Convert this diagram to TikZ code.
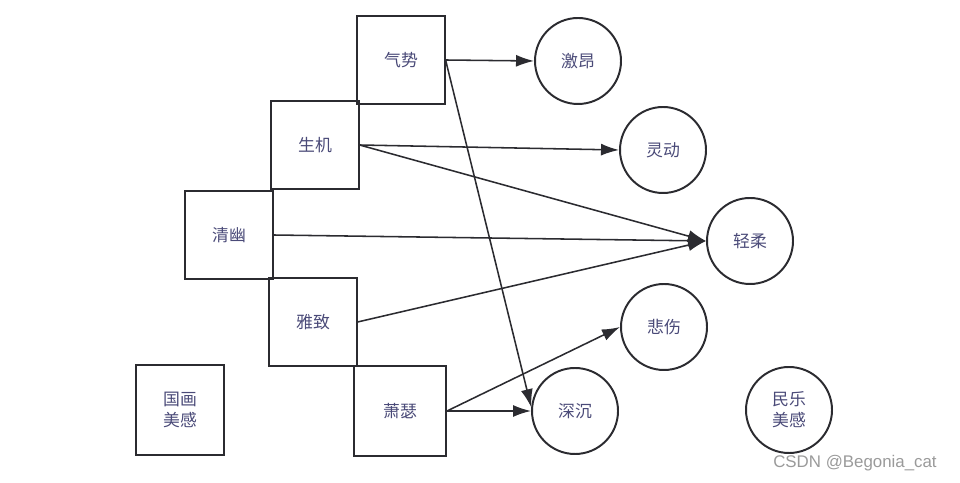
\documentclass[tikz,border=0pt]{standalone}
\usepackage{fontspec}
\setmainfont{Noto Sans CJK SC}
\newfontfamily\markfont{Liberation Sans}
\usetikzlibrary{arrows.meta,positioning}
\definecolor{InkGray}{HTML}{2B2B30}
\definecolor{TextBlue}{HTML}{4A4A78}
\definecolor{MarkGray}{HTML}{9A9A9A}

\begin{document}
\begin{tikzpicture}[
  x=1cm, y=1cm,
  word/.style={draw=InkGray, line width=1.4pt, minimum width=2.18cm, minimum height=2.18cm, align=center, text=TextBlue, font=\fontsize{12}{15}\selectfont},
  mood/.style={draw=InkGray, circle, line width=1.4pt, minimum size=2.15cm, align=center, text=TextBlue, font=\fontsize{12}{15}\selectfont},
  arr/.style={-{Latex[length=4.5mm,width=3mm]}, line width=1.1pt, InkGray}
]
\useasboundingbox (0,0) rectangle (24,12.075);
\node[word] (qishi) at (10.025,10.575) {气势};
\node[word] (shengji) at (7.875,8.45) {生机};
\node[word] (qingyou) at (5.725,6.2) {清幽};
\node[word] (yazhi) at (7.825,4.025) {雅致};
\node[word, minimum width=2.3cm, minimum height=2.25cm] (xiaose) at (10.0,1.8) {萧瑟};
\node[word, minimum width=2.22cm, minimum height=2.25cm] (guohua) at (4.5,1.825) {国画\\美感};
\node[mood] (jiang) at (14.45,10.55) {激昂};
\node[mood] (lingdong) at (16.575,8.325) {灵动};
\node[mood] (qingrou) at (18.75,6.05) {轻柔};
\node[mood] (beishang) at (16.6,3.9) {悲伤};
\node[mood] (shenchen) at (14.375,1.8) {深沉};
\node[mood] (minyue) at (19.725,1.825) {民乐\\美感};
\node[text=MarkGray, font=\markfont\fontsize{12}{14}\selectfont] (mark) at (21.375,0.5) {CSDN @Begonia\_cat};
\draw[arr] (qishi.east) -- (jiang.west);
\draw[arr] (qishi.east) -- (shenchen.175);
\draw[arr] (shengji.east) -- (lingdong.west);
\draw[arr] (shengji.east) -- (qingrou.west);
\draw[arr] (qingyou.east) -- (qingrou.west);
\draw[arr] (yazhi.east) -- (qingrou.west);
\draw[arr] (xiaose.east) -- (beishang.west);
\draw[arr] (xiaose.east) -- (shenchen.west);
\end{tikzpicture}
\end{document}
